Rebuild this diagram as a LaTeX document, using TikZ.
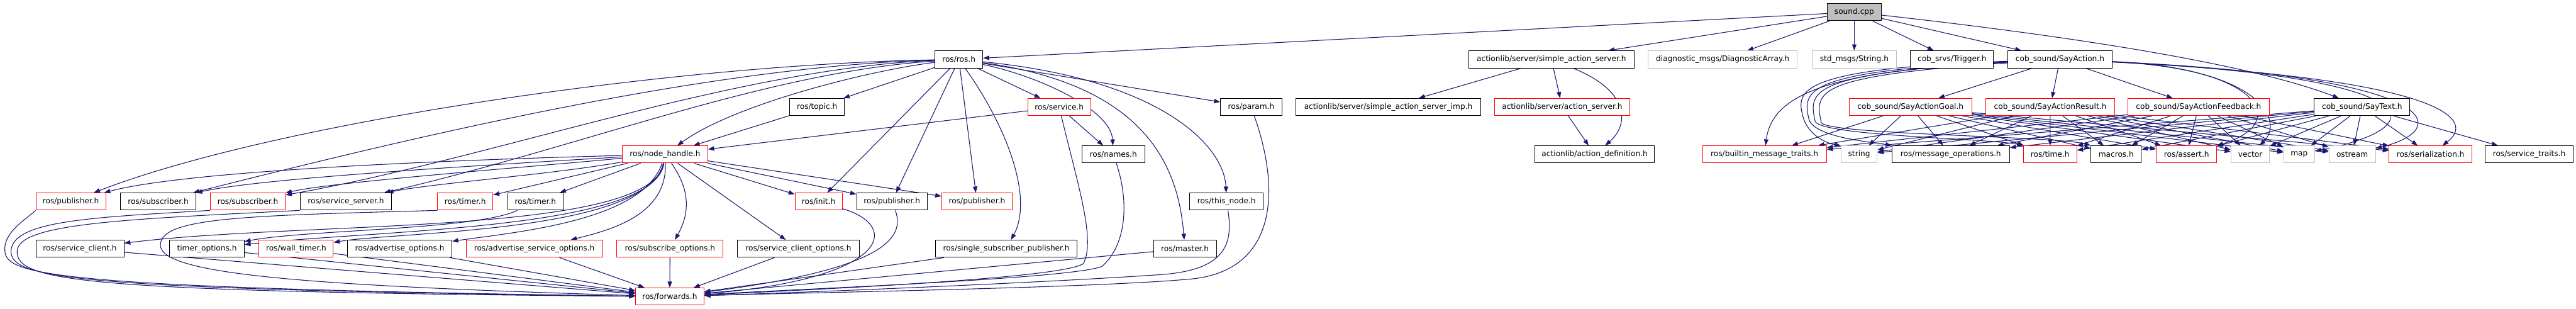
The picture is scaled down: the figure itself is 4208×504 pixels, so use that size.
\documentclass[tikz,border=0pt]{standalone}
\usepackage{fontspec}
\setmainfont{DejaVu Sans}
\usetikzlibrary{arrows.meta}
\definecolor{eb}{HTML}{191970}
\definecolor{lg}{HTML}{BFBFBF}
\definecolor{rd}{HTML}{FF0000}
\newcommand\gfs{\fontsize{6.25pt}{7.5pt}\selectfont}
\pgfdeclarelayer{bg}
\pgfsetlayers{bg,main}
\begin{document}
\begin{tikzpicture}[x=0.5pt,y=-0.5pt,
  nb/.style={draw=black, line width=0.5pt, fill=white, minimum height=14pt, inner sep=0pt, font=\gfs, text=black},
  nr/.style={nb, draw=rd},
  ng/.style={nb, draw=lg},
  e/.style={draw=eb, line width=0.55pt, -{Triangle[length=5pt,width=3.6pt]}}]
\useasboundingbox (0,0) rectangle (4208,504);
% row 0
\node[nb,fill=lg,minimum width=44.1pt] (snd) at (3029,19.7) {sound.cpp};
% row 1
\node[nb,minimum width=39.2pt] (ros) at (1566.3,97) {ros/ros.h};
\node[nb,minimum width=134.75pt] (sas) at (2534.3,97) {actionlib/server/simple\_action\_server.h};
\node[ng,minimum width=121.7pt] (diag) at (2814,97) {diagnostic\_msgs/DiagnosticArray.h};
\node[ng,minimum width=69.2pt] (str) at (3029,97) {std\_msgs/String.h};
\node[nb,minimum width=67.6pt] (trig) at (3188.6,97) {cob\_srvs/Trigger.h};
\node[nb,minimum width=85.1pt] (sa) at (3365,97) {cob\_sound/SayAction.h};
% row 2
\node[nb,minimum width=44.55pt] (topic) at (1334.7,174.7) {ros/topic.h};
\node[nr,minimum width=51.25pt] (srv) at (1730.2,174.7) {ros/service.h};
\node[nb,minimum width=50.15pt] (param) at (2043.8,174.7) {ros/param.h};
\node[nb,minimum width=150.9pt] (sasi) at (2267.9,174.7) {actionlib/server/simple\_action\_server\_imp.h};
\node[nr,minimum width=110.15pt] (asv) at (2551.8,174.7) {actionlib/server/action\_server.h};
\node[nr,minimum width=100.05pt] (goal) at (3120.8,174.7) {cob\_sound/SayActionGoal.h};
\node[nr,minimum width=105pt] (res) at (3349.1,174.7) {cob\_sound/SayActionResult.h};
\node[nr,minimum width=115.4pt] (fb) at (3591.4,174.7) {cob\_sound/SayActionFeedback.h};
\node[nb,minimum width=78.1pt] (st) at (3858.5,174.7) {cob\_sound/SayText.h};
% row 3
\node[nr,minimum width=69.85pt] (nh) at (1086.4,252) {ros/node\_handle.h};
\node[nb,minimum width=51.5pt] (names) at (1818.6,252) {ros/names.h};
\node[nb,minimum width=97.6pt] (ad) at (2605,252) {actionlib/action\_definition.h};
\node[nr,minimum width=101.3pt] (bmt) at (2882.3,252) {ros/builtin\_message\_traits.h};
\node[ng,minimum width=29.55pt] (strg) at (3036.9,252) {string};
\node[nb,minimum width=96pt] (mo) at (3186.6,252) {ros/message\_operations.h};
\node[nr,minimum width=43.4pt] (tim) at (3348.9,252) {ros/time.h};
\node[nb,minimum width=41.2pt] (mac) at (3456.8,252) {macros.h};
\node[nr,minimum width=49.2pt] (ast) at (3571.8,252) {ros/assert.h};
\node[ng,minimum width=31.4pt] (vec) at (3675.9,252) {vector};
\node[ng,minimum width=25.5pt] (mapn) at (3755.8,252) {map};
\node[ng,minimum width=37.95pt] (ost) at (3842.3,252) {ostream};
\node[nr,minimum width=67.5pt] (ser) at (3970.3,252) {ros/serialization.h};
\node[nb,minimum width=71.55pt] (stt) at (4131.5,252) {ros/service\_traits.h};
% row 4
\node[nr,minimum width=57.1pt] (pub1) at (115.7,329) {ros/publisher.h};
\node[nb,minimum width=61.35pt] (sub1) at (258.4,329) {ros/subscriber.h};
\node[nr,minimum width=61.35pt] (sub2) at (404.8,329) {ros/subscriber.h};
\node[nb,minimum width=74.8pt] (ss) at (565,329) {ros/service\_server.h};
\node[nr,minimum width=45.2pt] (tim1) at (760,329) {ros/timer.h};
\node[nb,minimum width=45.2pt] (tim2) at (874.6,329) {ros/timer.h};
\node[nr,minimum width=38.5pt] (init) at (1337.1,329) {ros/init.h};
\node[nb,minimum width=57.65pt] (pub2) at (1457,329) {ros/publisher.h};
\node[nr,minimum width=57.55pt] (pub3) at (1595.9,329) {ros/publisher.h};
\node[nb,minimum width=60pt] (tn) at (2003.5,329) {ros/this\_node.h};
% row 5
\node[nb,minimum width=71.9pt] (sc) at (130.5,406) {ros/service\_client.h};
\node[nb,minimum width=60.9pt] (tmo) at (338,406) {timer\_options.h};
\node[nr,minimum width=60.65pt] (wt) at (483.8,406) {ros/wall\_timer.h};
\node[nb,minimum width=85.2pt] (ao) at (652.9,406) {ros/advertise\_options.h};
\node[nr,minimum width=111.5pt] (aso) at (872.8,406) {ros/advertise\_service\_options.h};
\node[nr,minimum width=86.85pt] (sbo) at (1094.5,406) {ros/subscribe\_options.h};
\node[nb,minimum width=99.5pt] (sco) at (1304.1,406) {ros/service\_client\_options.h};
\node[nb,minimum width=115.75pt] (ssp) at (1643.8,406) {ros/single\_subscriber\_publisher.h};
\node[nb,minimum width=51.25pt] (mas) at (1935.7,406) {ros/master.h};
% row 6
\node[nr,minimum width=55.95pt] (fw) at (1094,484.2) {ros/forwards.h};

\begin{pgfonlayer}{bg}
% sound.cpp
\draw[e] (snd) -- (ros);
\draw[e] (snd) -- (sas);
\draw[e] (snd) -- (diag);
\draw[e] (snd) -- (str);
\draw[e] (snd) -- (trig);
\draw[e] (snd) -- (sa);
\draw[e] (snd) .. controls (3300,50) and (3650,95) .. (st);
% ros.h
\draw[e] (ros) -- (topic);
\draw[e] (ros) -- (srv);
\draw[e] (ros) -- (param);
\draw[e] (ros) .. controls (1420,115) and (1200,170) .. (nh);
\draw[e] (ros) .. controls (1700,125) and (1815,180) .. (names);
\draw[e] (ros) .. controls (1100,105) and (450,200) .. (pub1);
\draw[e] (ros) .. controls (1150,108) and (650,230) .. (sub1);
\draw[e] (ros) .. controls (1200,112) and (800,260) .. (sub2);
\draw[e] (ros) .. controls (1250,118) and (950,240) .. (ss);
\draw[e] (ros) -- (init);
\draw[e] (ros) -- (pub2);
\draw[e] (ros) -- (pub3);
\draw[e] (ros) .. controls (1640,200) and (1690,320) .. (ssp);
\draw[e] (ros) .. controls (1880,140) and (1925,280) .. (mas);
\draw[e] (ros) .. controls (1900,130) and (2000,240) .. (tn);
% service / topic / names / param
\draw[e] (topic) -- (nh);
\draw[e] (srv) -- (nh);
\draw[e] (srv) -- (names);
\draw[e] (srv) .. controls (1760,300) and (1790,390) .. (1770,430) .. controls (1740,455) and (1300,474) .. (fw);
\draw[e] (names) .. controls (1845,330) and (1840,400) .. (1800,435) .. controls (1750,455) and (1300,472) .. (fw);
\draw[e] (param) .. controls (2095,320) and (2080,440) .. (1950,455) .. controls (1800,470) and (1300,478) .. (fw);
\draw[e] (tn) .. controls (2015,400) and (2000,440) .. (1900,448) .. controls (1700,462) and (1300,478) .. (fw);
\draw[e] (mas) -- (fw);
\draw[e] (ssp) -- (fw);
\draw[e] (pub2) .. controls (1480,390) and (1440,440) .. (fw);
\draw[e] (init) .. controls (1475,370) and (1450,455) .. (fw);
\draw[e] (sco) -- (fw);
\draw[e] (sbo) -- (fw);
\draw[e] (aso) -- (fw);
\draw[e] (ao) -- (fw);
\draw[e] (wt) -- (fw);
\draw[e] (tmo) -- (fw);
\draw[e] (sc) -- (fw);
\draw[e] (pub1.south west) .. controls (40,360) and (5,380) .. (8,410) .. controls (10,450) and (100,470) .. (fw);
\draw[e] (sub2.south west) .. controls (150,355) and (20,360) .. (18,410) .. controls (18,455) and (120,472) .. (fw);
\draw[e] (ss.south west) .. controls (200,358) and (30,365) .. (28,410) .. controls (26,460) and (140,476) .. (fw);
\draw[e] (tim1.south west) .. controls (400,352) and (262,355) .. (262,400) .. controls (262,448) and (500,466) .. (fw);
\draw[e] (tim2) .. controls (780,375) and (500,375) .. (tmo);
% node_handle.h
\draw[e] (nh) .. controls (700,262) and (300,280) .. (pub1);
\draw[e] (nh) .. controls (750,272) and (420,292) .. (sub1);
\draw[e] (nh) .. controls (800,278) and (540,298) .. (sub2);
\draw[e] (nh) .. controls (900,285) and (700,300) .. (ss);
\draw[e] (nh) -- (tim1);
\draw[e] (nh) -- (tim2);
\draw[e] (nh) -- (init);
\draw[e] (nh) -- (pub2);
\draw[e] (nh) -- (pub3);
\draw[e] (nh) -- (sco);
\draw[e] (nh) .. controls (1065,385) and (500,360) .. (sc);
\draw[e] (nh) .. controls (1070,375) and (620,375) .. (tmo);
\draw[e] (nh) .. controls (1060,380) and (650,378) .. (wt);
\draw[e] (nh) .. controls (1050,360) and (850,378) .. (ao);
\draw[e] (nh) .. controls (1090,350) and (1000,375) .. (aso);
\draw[e] (nh) .. controls (1135,320) and (1120,360) .. (sbo);
% actionlib
\draw[e] (sas) -- (sasi);
\draw[e] (sas) -- (asv);
\draw[e] (sas) .. controls (2665,150) and (2660,205) .. (ad);
\draw[e] (asv) -- (ad);
% SayAction
\draw[e] (sa) -- (goal);
\draw[e] (sa) -- (res);
\draw[e] (sa) -- (fb);
\draw[e] (sa) .. controls (3000,115) and (2895,150) .. (bmt);
\draw[e] (sa) .. controls (2930,112) and (2935,150) .. (2945,190) .. controls (2955,225) and (2990,235) .. (strg.north west);
\draw[e] (sa) .. controls (2940,116) and (2945,150) .. (2955,195) .. controls (2965,225) and (3060,232) .. (mo.north west);
\draw[e] (sa) .. controls (2950,120) and (2955,150) .. (2965,198) .. controls (2975,222) and (3250,226) .. (tim.north west);
\draw[e] (sa) .. controls (2960,124) and (2965,150) .. (2975,200) .. controls (2985,220) and (3360,222) .. (mac.north west);
\draw[e] (sa) .. controls (3690,110) and (3745,200) .. (ast.north east);
\draw[e] (sa) .. controls (3700,112) and (3730,200) .. (vec);
\draw[e] (sa) .. controls (3960,125) and (3990,205) .. (mapn);
\draw[e] (sa) .. controls (3990,125) and (4010,210) .. (ost);
\draw[e] (sa) .. controls (4020,130) and (4040,200) .. (ser);
\foreach \s in {goal,res,fb,st}{
  \foreach \t in {bmt,strg,mo,tim,mac,ast,vec,mapn,ost,ser}{
    \draw[e] (\s) -- (\t);
  }
}
\draw[e] (st) -- (stt);
\end{pgfonlayer}
\end{tikzpicture}
\end{document}
